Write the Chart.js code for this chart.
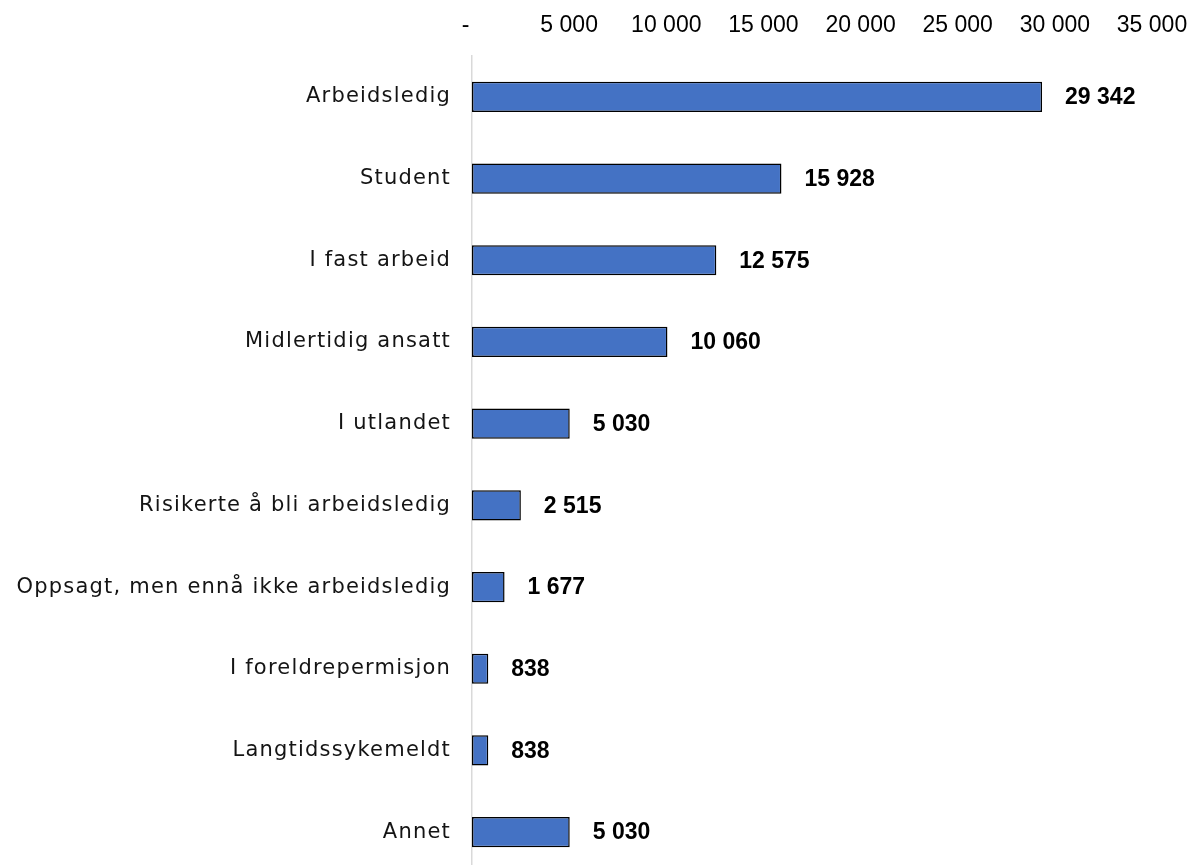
<!DOCTYPE html>
<html>
<head>
<meta charset="utf-8">
<script src="https://cdn.jsdelivr.net/npm/chart.js@4/dist/chart.umd.min.js"></script>
<style>
  html, body { margin: 0; padding: 0; background: #fff; overflow: hidden; }
  canvas { display: block; }
</style>
</head>
<body>
<canvas id="c" width="1198" height="880"></canvas>
<script>
const categories = [
  "Arbeidsledig",
  "Student",
  "I fast arbeid",
  "Midlertidig ansatt",
  "I utlandet",
  "Risikerte å bli arbeidsledig",
  "Oppsagt, men ennå ikke arbeidsledig",
  "I foreldrepermisjon",
  "Langtidssykemeldt",
  "Annet"
];
const values = [29342, 15928, 12575, 10060, 5030, 2515, 1677, 838, 838, 5030];
const tickValues = [0, 5000, 10000, 15000, 20000, 25000, 30000, 35000];

// Norwegian-style digit grouping with spaces
function fmt(v) {
  return String(Math.round(v)).replace(/\B(?=(\d{3})+(?!\d))/g, " ");
}

const valueLabels = {
  id: "valueLabels",
  afterDatasetsDraw(chart) {
    const ctx = chart.ctx;
    const meta = chart.getDatasetMeta(0);
    ctx.save();
    ctx.font = "bold 23px 'Liberation Sans', Arial, sans-serif";
    ctx.fillStyle = "#000";
    ctx.textAlign = "left";
    ctx.textBaseline = "middle";
    meta.data.forEach((bar, i) => {
      ctx.fillText(fmt(values[i]), bar.x + 23, bar.y + 1);
    });
    ctx.restore();
  }
};

new Chart(document.getElementById("c"), {
  type: "bar",
  data: {
    labels: categories,
    datasets: [{
      data: values,
      backgroundColor: "#4472C4",
      borderColor: "#000",
      borderWidth: 1.5,
      borderSkipped: false,
      barPercentage: 0.37,
      categoryPercentage: 1.0
    }]
  },
  options: {
    indexAxis: "y",
    responsive: false,
    animation: false,
    layout: { padding: { left: 0, right: 46, top: 0, bottom: 7 } },
    plugins: { legend: { display: false }, tooltip: { enabled: false } },
    scales: {
      x: {
        position: "top",
        min: 0,
        max: 35000,
        afterBuildTicks(scale) { scale.ticks = tickValues.map(v => ({ value: v })); },
        afterFit(scale) {
          scale.height = 56;
          scale.paddingTop = 0;
          scale.paddingBottom = 0;
          scale.paddingLeft = 0;
          scale.paddingRight = 0;
        },
        grid: { display: false, drawTicks: false },
        border: { display: false },
        ticks: {
          padding: 17,
          color: "#000",
          font: { family: "'Liberation Sans', Arial, sans-serif", size: 23 },
          callback: (v) => (v === 0 ? "-\u00a0\u00a0" : fmt(v))
        }
      },
      y: {
        afterFit(scale) {
          scale.width = 472;
          scale.paddingTop = 0;
          scale.paddingBottom = 0;
          // wide, airy category labels
          if (!scale._spaced) {
            const orig = scale.drawLabels;
            scale.drawLabels = function (area) {
              const ctx = this.ctx;
              ctx.save();
              ctx.letterSpacing = "1.2px";
              orig.call(this, area);
              ctx.restore();
            };
            scale._spaced = true;
          }
        },
        grid: { display: false, drawTicks: false },
        border: { display: true, color: "#d9d9d9", width: 1.5 },
        ticks: {
          padding: 21,
          color: "#141414",
          font: { family: "'DejaVu Sans', sans-serif", size: 21 }
        }
      }
    }
  },
  plugins: [valueLabels]
});
</script>
</body>
</html>
